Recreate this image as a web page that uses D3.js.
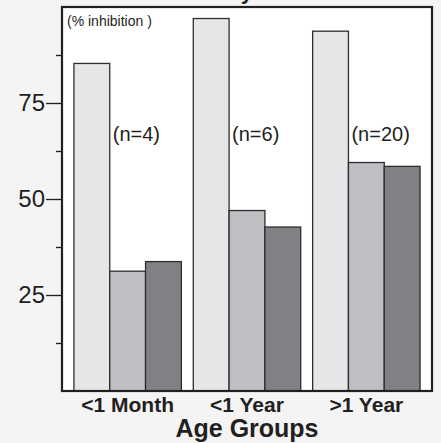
<!DOCTYPE html>
<html>
<head>
<meta charset="utf-8">
<script src="https://cdn.jsdelivr.net/npm/d3@7"></script>
<style>
  body { margin: 0; background: #f3f4f3; }
  svg { display: block; font-family: "Liberation Sans", Arial, sans-serif; }
</style>
</head>
<body>
<svg id="chart" width="441" height="443"></svg>
<script>
// chart values
var groups = ["<1 Month", "<1 Year", ">1 Year"];
var seriesA = [85.3, 97, 93.7];
var seriesB = [31.2, 47, 59.5];
var seriesC = [33.7, 42.7, 58.5];
var nLabels = ["(n=4)", "(n=6)", "(n=20)"];
var majorTicks = [25, 50, 75];
var minorTicks = [12.5, 37.5, 62.5, 87.5];
var colours = ["#e5e6e8", "#bebfc2", "#808184"];

var svg = d3.select("#chart"),
    margin = {top: 7, right: 9, bottom: 52, left: 62},
    width = +svg.attr("width") - margin.left - margin.right,
    height = +svg.attr("height") - margin.top - margin.bottom;

var series = [seriesA, seriesB, seriesC];
var data = groups.map(function(g, i) {
  return {group: g, n: nLabels[i], values: series.map(function(s) { return s[i]; })};
});

// scales
var x0 = d3.scaleBand().domain(groups).range([0, width]).paddingInner(0.1).paddingOuter(0.1);
var x1 = d3.scaleBand().domain([0, 1, 2]).range([0, x0.bandwidth()]);
var y = d3.scaleLinear().domain([0, 100]).range([height, 0]);

// title, mostly cut off above the frame
svg.append("text")
  .attr("x", 253)
  .attr("y", -1)
  .attr("text-anchor", "end")
  .attr("font-size", 22)
  .attr("font-weight", "bold")
  .attr("fill", "#231f20")
  .text("Efficacy");

var g = svg.append("g")
  .attr("transform", "translate(" + margin.left + "," + margin.top + ")");

// white plot area
g.append("rect")
  .attr("width", width)
  .attr("height", height)
  .attr("fill", "#fff");

// bars
var grp = g.selectAll(".grp")
  .data(data)
  .enter().append("g")
  .attr("class", "grp")
  .attr("transform", function(d) { return "translate(" + x0(d.group) + ",0)"; });

grp.selectAll("rect")
  .data(function(d) { return d.values; })
  .enter().append("rect")
  .attr("x", function(d, i) { return x1(i); })
  .attr("y", function(d) { return y(d); })
  .attr("width", x1.bandwidth())
  .attr("height", function(d) { return height - y(d); })
  .attr("fill", function(d, i) { return colours[i]; })
  .attr("stroke", "#2e2c2d")
  .attr("stroke-width", 1.3);

// (n=..) labels
grp.append("text")
  .attr("x", x1(1) + 3)
  .attr("y", 134)
  .attr("font-size", 20)
  .attr("fill", "#231f20")
  .text(function(d) { return d.n; });

// y axis ticks
g.append("g")
  .call(d3.axisLeft(y).tickValues(majorTicks).tickSize(16).tickPadding(1))
  .call(function(a) {
    a.select(".domain").remove();
    a.selectAll("line").attr("stroke", "#231f20").attr("stroke-width", 1.3);
    a.selectAll("text").attr("font-size", 24).attr("fill", "#231f20").attr("font-family", null);
  });
g.append("g")
  .call(d3.axisLeft(y).tickValues(minorTicks).tickSize(6).tickFormat(""))
  .call(function(a) {
    a.select(".domain").remove();
    a.selectAll("line").attr("stroke", "#231f20").attr("stroke-width", 1.3);
  });

// frame
g.append("rect")
  .attr("width", width)
  .attr("height", height)
  .attr("fill", "none")
  .attr("stroke", "#231f20")
  .attr("stroke-width", 2.2);

g.append("text")
  .attr("x", 5)
  .attr("y", 19)
  .attr("font-size", 14)
  .attr("fill", "#231f20")
  .text("(% inhibition )");

// x labels
g.selectAll(".xlab")
  .data(groups)
  .enter().append("text")
  .attr("class", "xlab")
  .attr("x", function(d) { return x0(d) + x0.bandwidth() / 2; })
  .attr("y", height + 21)
  .attr("text-anchor", "middle")
  .attr("font-size", 21)
  .attr("font-weight", "bold")
  .attr("fill", "#231f20")
  .text(function(d) { return d; });

g.append("text")
  .attr("x", width / 2)
  .attr("y", height + 46)
  .attr("text-anchor", "middle")
  .attr("font-size", 25)
  .attr("font-weight", "bold")
  .attr("fill", "#231f20")
  .text("Age Groups");
</script>
</body>
</html>
